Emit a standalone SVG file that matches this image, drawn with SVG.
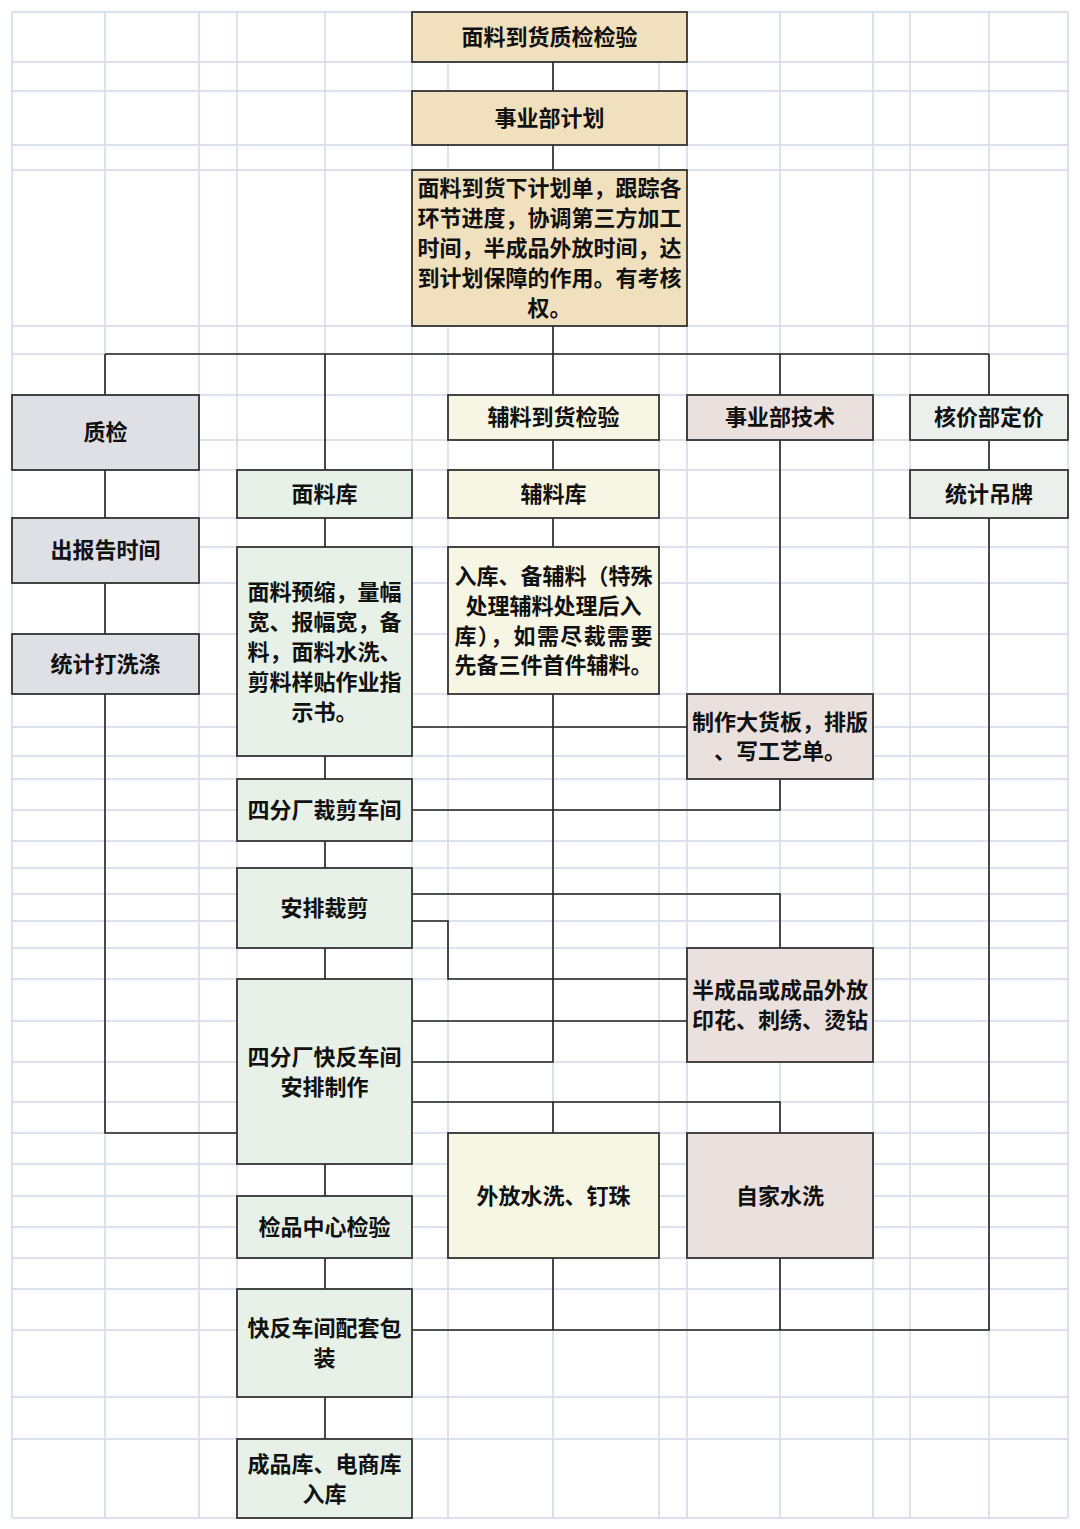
<svg xmlns="http://www.w3.org/2000/svg" width="1080" height="1529" viewBox="0 0 1080 1529">
<style>
.grid line{stroke:#D3D9EA;stroke-width:1.5}
.conn path{fill:none;stroke:#222;stroke-width:1.6}
.box{stroke:#333;stroke-width:1.8}
.beige{fill:#F1E0BD}
.grey{fill:#DFDFE6}
.green{fill:#E7F1E8}
.cream{fill:#F7F6E5}
.pink{fill:#EAE0DE}
.sage{fill:#EBF0EC}
text{font-family:"Noto Sans CJK SC","Noto Sans",sans-serif;font-size:22px;font-weight:bold;fill:#111;text-anchor:middle;dominant-baseline:central}
</style>
<rect width="1080" height="1529" fill="#fff"/>
<g class="grid" id="grid">
<line x1="12" y1="12" x2="12" y2="1518"/>
<line x1="105" y1="12" x2="105" y2="1518"/>
<line x1="199" y1="12" x2="199" y2="1518"/>
<line x1="237" y1="12" x2="237" y2="1518"/>
<line x1="325" y1="12" x2="325" y2="1518"/>
<line x1="412" y1="12" x2="412" y2="1518"/>
<line x1="448" y1="12" x2="448" y2="1518"/>
<line x1="553" y1="12" x2="553" y2="1518"/>
<line x1="659" y1="12" x2="659" y2="1518"/>
<line x1="687" y1="12" x2="687" y2="1518"/>
<line x1="780" y1="12" x2="780" y2="1518"/>
<line x1="873" y1="12" x2="873" y2="1518"/>
<line x1="910" y1="12" x2="910" y2="1518"/>
<line x1="989" y1="12" x2="989" y2="1518"/>
<line x1="1068" y1="12" x2="1068" y2="1518"/>
<line x1="12" y1="12" x2="1068" y2="12"/>
<line x1="12" y1="62" x2="1068" y2="62"/>
<line x1="12" y1="91" x2="1068" y2="91"/>
<line x1="12" y1="145" x2="1068" y2="145"/>
<line x1="12" y1="170" x2="1068" y2="170"/>
<line x1="12" y1="326" x2="1068" y2="326"/>
<line x1="12" y1="354" x2="1068" y2="354"/>
<line x1="12" y1="395" x2="1068" y2="395"/>
<line x1="12" y1="440" x2="1068" y2="440"/>
<line x1="12" y1="470" x2="1068" y2="470"/>
<line x1="12" y1="518" x2="1068" y2="518"/>
<line x1="12" y1="547" x2="1068" y2="547"/>
<line x1="12" y1="583" x2="1068" y2="583"/>
<line x1="12" y1="634" x2="1068" y2="634"/>
<line x1="12" y1="694" x2="1068" y2="694"/>
<line x1="12" y1="727" x2="1068" y2="727"/>
<line x1="12" y1="756" x2="1068" y2="756"/>
<line x1="12" y1="779" x2="1068" y2="779"/>
<line x1="12" y1="810" x2="1068" y2="810"/>
<line x1="12" y1="841" x2="1068" y2="841"/>
<line x1="12" y1="868" x2="1068" y2="868"/>
<line x1="12" y1="894" x2="1068" y2="894"/>
<line x1="12" y1="921" x2="1068" y2="921"/>
<line x1="12" y1="948" x2="1068" y2="948"/>
<line x1="12" y1="979" x2="1068" y2="979"/>
<line x1="12" y1="1021" x2="1068" y2="1021"/>
<line x1="12" y1="1062" x2="1068" y2="1062"/>
<line x1="12" y1="1102" x2="1068" y2="1102"/>
<line x1="12" y1="1133" x2="1068" y2="1133"/>
<line x1="12" y1="1164" x2="1068" y2="1164"/>
<line x1="12" y1="1196" x2="1068" y2="1196"/>
<line x1="12" y1="1227" x2="1068" y2="1227"/>
<line x1="12" y1="1258" x2="1068" y2="1258"/>
<line x1="12" y1="1289" x2="1068" y2="1289"/>
<line x1="12" y1="1330" x2="1068" y2="1330"/>
<line x1="12" y1="1397" x2="1068" y2="1397"/>
<line x1="12" y1="1439" x2="1068" y2="1439"/>
<line x1="12" y1="1518" x2="1068" y2="1518"/>
</g>
<g class="conn" id="connectors">
<path d="M553,62V91"/>
<path d="M553,145V170"/>
<path d="M553,326V354"/>
<path d="M105,354H989"/>
<path d="M105,354V395"/>
<path d="M325,354V470"/>
<path d="M553,354V395"/>
<path d="M780,354V395"/>
<path d="M989,354V395"/>
<path d="M105,470V518"/>
<path d="M105,583V634"/>
<path d="M105,694V1133H237"/>
<path d="M325,518V547"/>
<path d="M325,756V779"/>
<path d="M325,841V868"/>
<path d="M325,948V979"/>
<path d="M325,1164V1196"/>
<path d="M325,1258V1289"/>
<path d="M325,1397V1439"/>
<path d="M553,440V470"/>
<path d="M553,518V547"/>
<path d="M553,694V1062H412"/>
<path d="M412,727H687"/>
<path d="M780,440V694"/>
<path d="M780,779V810H412"/>
<path d="M412,894H780V948"/>
<path d="M412,921H448V979H687"/>
<path d="M412,1021H687"/>
<path d="M412,1102H780V1133"/>
<path d="M553,1102V1133"/>
<path d="M553,1258V1330"/>
<path d="M780,1258V1330"/>
<path d="M412,1330H989V518"/>
<path d="M989,440V470"/>
</g>
<g id="n1"><rect class="box beige" x="412" y="12" width="275" height="50"/><text x="549.5" y="35">面料到货质检检验</text></g>
<g id="n2"><rect class="box beige" x="412" y="91" width="275" height="54"/><text x="549.5" y="116">事业部计划</text></g>
<g id="n3"><rect class="box beige" x="412" y="170" width="275" height="156"/>
<text x="549.5" y="186">面料到货下计划单，跟踪各</text>
<text x="549.5" y="216">环节进度，协调第三方加工</text>
<text x="549.5" y="246">时间，半成品外放时间，达</text>
<text x="549.5" y="276">到计划保障的作用。有考核</text>
<text x="549.5" y="306">权。</text></g>
<g id="n4"><rect class="box grey" x="12" y="395" width="187" height="75"/><text x="105.5" y="430">质检</text></g>
<g id="n5"><rect class="box grey" x="12" y="518" width="187" height="65"/><text x="105.5" y="548">出报告时间</text></g>
<g id="n6"><rect class="box grey" x="12" y="634" width="187" height="60"/><text x="105.5" y="662">统计打洗涤</text></g>
<g id="n7"><rect class="box green" x="237" y="470" width="175" height="48"/><text x="324.5" y="492">面料库</text></g>
<g id="n8"><rect class="box green" x="237" y="547" width="175" height="209"/>
<text x="324.5" y="590">面料预缩，量幅</text>
<text x="324.5" y="620">宽、报幅宽，备</text>
<text x="324.5" y="650">料，面料水洗、</text>
<text x="324.5" y="680">剪料样贴作业指</text>
<text x="324.5" y="710">示书。</text></g>
<g id="n9"><rect class="box green" x="237" y="779" width="175" height="62"/><text x="324.5" y="808">四分厂裁剪车间</text></g>
<g id="n10"><rect class="box green" x="237" y="868" width="175" height="80"/><text x="324.5" y="906">安排裁剪</text></g>
<g id="n11"><rect class="box green" x="237" y="979" width="175" height="185"/>
<text x="324.5" y="1055">四分厂快反车间</text>
<text x="324.5" y="1085">安排制作</text></g>
<g id="n12"><rect class="box green" x="237" y="1196" width="175" height="62"/><text x="324.5" y="1225">检品中心检验</text></g>
<g id="n13"><rect class="box green" x="237" y="1289" width="175" height="108"/>
<text x="324.5" y="1326">快反车间配套包</text>
<text x="324.5" y="1356">装</text></g>
<g id="n14"><rect class="box green" x="237" y="1439" width="175" height="79"/>
<text x="324.5" y="1462">成品库、电商库</text>
<text x="324.5" y="1492">入库</text></g>
<g id="n15"><rect class="box cream" x="448" y="395" width="211" height="45"/><text x="553.5" y="415">辅料到货检验</text></g>
<g id="n16"><rect class="box cream" x="448" y="470" width="211" height="48"/><text x="553.5" y="492">辅料库</text></g>
<g id="n17"><rect class="box cream" x="448" y="547" width="211" height="147"/>
<text x="553.5" y="574">入库、备辅料（特殊</text>
<text x="553.5" y="604">处理辅料处理后入</text>
<text x="553.5" y="634" textLength="198" lengthAdjust="spacing">库），如需尽裁需要</text>
<text x="553.5" y="663">先备三件首件辅料。</text></g>
<g id="n18"><rect class="box pink" x="687" y="395" width="186" height="45"/><text x="780" y="415">事业部技术</text></g>
<g id="n19"><rect class="box pink" x="687" y="694" width="186" height="85"/>
<text x="780" y="720">制作大货板，排版</text>
<text x="780" y="749">、写工艺单。</text></g>
<g id="n20"><rect class="box pink" x="687" y="948" width="186" height="114"/>
<text x="780" y="988">半成品或成品外放</text>
<text x="780" y="1018">印花、刺绣、烫钻</text></g>
<g id="n21"><rect class="box cream" x="448" y="1133" width="211" height="125"/><text x="553.5" y="1194">外放水洗、钉珠</text></g>
<g id="n22"><rect class="box pink" x="687" y="1133" width="186" height="125"/><text x="780" y="1194">自家水洗</text></g>
<g id="n23"><rect class="box sage" x="910" y="395" width="158" height="45"/><text x="989" y="415">核价部定价</text></g>
<g id="n24"><rect class="box sage" x="910" y="470" width="158" height="48"/><text x="989" y="492">统计吊牌</text></g>
</svg>
